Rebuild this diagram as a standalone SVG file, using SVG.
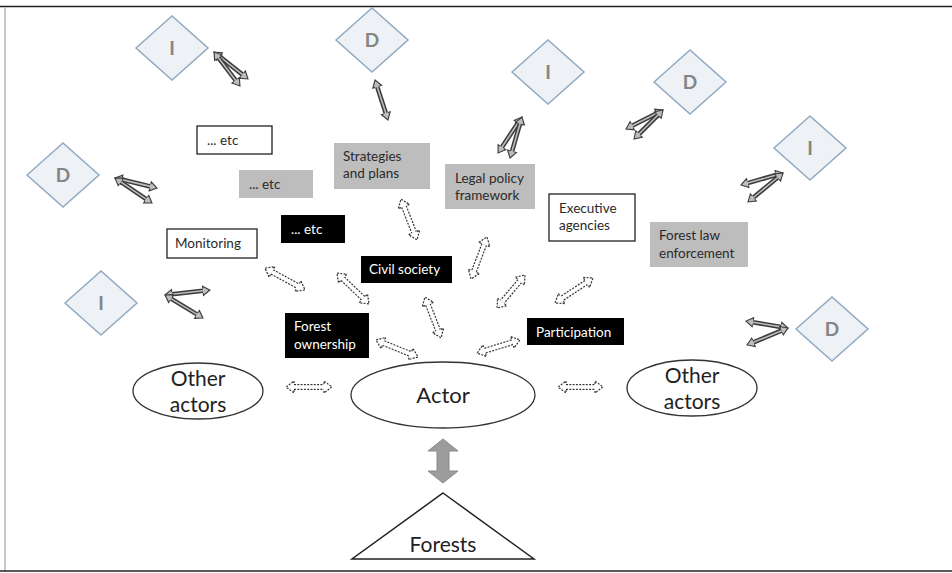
<svg xmlns="http://www.w3.org/2000/svg" width="952" height="573" viewBox="0 0 952 573">
  <style>
    .frame-dark { stroke: #222; stroke-width: 1.6; }
    .frame-light { stroke: #b0b0b0; stroke-width: 1.4; }
    .dia { fill: #eef1f6; stroke: #91a9c2; stroke-width: 1.5; }
    .dia-t { font-family: Lato, "Liberation Sans", sans-serif; font-size: 19px; font-weight: bold; fill: #858585; text-anchor: middle; }
    .bx-w { fill: #fff; stroke: #222; stroke-width: 1.3; }
    .bx-g { fill: #bdbdbd; stroke: none; }
    .bx-k { fill: #000; stroke: none; }
    .t { font-family: Lato, "Liberation Sans", sans-serif; font-size: 13.5px; }
    .t-d { fill: #2a2a2a; }
    .t-w { fill: #fff; }
    .ell { fill: #fff; stroke: #333; stroke-width: 1.3; }
    .big { font-family: Lato, "Liberation Sans", sans-serif; fill: #222; text-anchor: middle; }
    .da-o { stroke: #333; stroke-width: 6; stroke-dasharray: 2 1.3; fill: none; }
    .da-i { stroke: #fff; stroke-width: 3.6; fill: none; marker-start: url(#dashHead); marker-end: url(#dashHead); }
    .dk-o { stroke: #3a3a3a; stroke-width: 4.6; fill: none; }
    .dk-i { stroke: #bdbdbd; stroke-width: 1.6; fill: none; marker-start: url(#darkHead); marker-end: url(#darkHead); }
  </style>
  <defs>
    <!-- hollow block-arrow head with dotted outline; reference point is the head base -->
    <marker id="dashHead" markerUnits="userSpaceOnUse" orient="auto-start-reverse" refX="0" refY="0" markerWidth="20" markerHeight="20" overflow="visible">
      <path d="M0,-3 L0,-6 L8,0 L0,6 L0,3" fill="#fff" stroke="#333" stroke-width="1.2" stroke-dasharray="2 1.3"/>
    </marker>
    <!-- narrow dark head used by the links to the I/D diamonds -->
    <marker id="darkHead" markerUnits="userSpaceOnUse" orient="auto-start-reverse" refX="0" refY="0" markerWidth="20" markerHeight="20" overflow="visible">
      <path d="M0,-2.3 L0,-4.6 L7,0 L0,4.6 L0,2.3" fill="#bdbdbd" stroke="#3a3a3a" stroke-width="1.1"/>
    </marker>
  </defs>

  <rect width="952" height="573" fill="#fff"/>

  <!-- frame -->
  <g id="frame">
    <line class="frame-dark" x1="0" y1="6.5" x2="952" y2="6.5"/>
    <line class="frame-light" x1="5" y1="7" x2="5" y2="571"/>
    <line class="frame-dark" x1="0" y1="571" x2="952" y2="571"/>
  </g>

  <!-- connectors -->
  <g id="connectors">
    <!-- dotted double arrows around the actor -->
    <line class="da-o" x1="272.0" y1="271.9" x2="298.0" y2="286.1"/><line class="da-i" x1="272.0" y1="271.9" x2="298.0" y2="286.1"/>
    <line class="da-o" x1="342.7" y1="278.6" x2="363.3" y2="298.4"/><line class="da-i" x1="342.7" y1="278.6" x2="363.3" y2="298.4"/>
    <line class="da-o" x1="403.9" y1="206.5" x2="414.1" y2="232.5"/><line class="da-i" x1="403.9" y1="206.5" x2="414.1" y2="232.5"/>
    <line class="da-o" x1="427.9" y1="304.5" x2="438.1" y2="330.5"/><line class="da-i" x1="427.9" y1="304.5" x2="438.1" y2="330.5"/>
    <line class="da-o" x1="484.2" y1="244.5" x2="473.9" y2="271.5"/><line class="da-i" x1="484.2" y1="244.5" x2="473.9" y2="271.5"/>
    <line class="da-o" x1="519.8" y1="281.1" x2="502.2" y2="301.9"/><line class="da-i" x1="519.8" y1="281.1" x2="502.2" y2="301.9"/>
    <line class="da-o" x1="586.3" y1="282.4" x2="561.7" y2="298.6"/><line class="da-i" x1="586.3" y1="282.4" x2="561.7" y2="298.6"/>
    <line class="da-o" x1="383.4" y1="343.0" x2="410.6" y2="354.0"/><line class="da-i" x1="383.4" y1="343.0" x2="410.6" y2="354.0"/>
    <line class="da-o" x1="512.3" y1="342.3" x2="484.7" y2="350.7"/><line class="da-i" x1="512.3" y1="342.3" x2="484.7" y2="350.7"/>
    <line class="da-o" x1="294" y1="387" x2="324" y2="387"/><line class="da-i" x1="294" y1="387" x2="324" y2="387"/>
    <line class="da-o" x1="566" y1="387" x2="595" y2="387"/><line class="da-i" x1="566" y1="387" x2="595" y2="387"/>

    <!-- dark double arrows to the diamonds -->
    <line class="dk-o" x1="219.5" y1="56.4" x2="242.5" y2="74.6"/><line class="dk-i" x1="219.5" y1="56.4" x2="242.5" y2="74.6"/>
    <line class="dk-o" x1="218.3" y1="57.6" x2="235.7" y2="80.4"/><line class="dk-i" x1="218.3" y1="57.6" x2="235.7" y2="80.4"/>
    <line class="dk-o" x1="121.8" y1="179.6" x2="150.2" y2="186.4"/><line class="dk-i" x1="121.8" y1="179.6" x2="150.2" y2="186.4"/>
    <line class="dk-o" x1="120.8" y1="181.9" x2="146.2" y2="199.1"/><line class="dk-i" x1="120.8" y1="181.9" x2="146.2" y2="199.1"/>
    <line class="dk-o" x1="172.0" y1="294.2" x2="203.0" y2="290.8"/><line class="dk-i" x1="172.0" y1="294.2" x2="203.0" y2="290.8"/>
    <line class="dk-o" x1="171.0" y1="298.6" x2="197.0" y2="314.4"/><line class="dk-i" x1="171.0" y1="298.6" x2="197.0" y2="314.4"/>
    <line class="dk-o" x1="377.2" y1="86.7" x2="385.8" y2="113.3"/><line class="dk-i" x1="377.2" y1="86.7" x2="385.8" y2="113.3"/>
    <line class="dk-o" x1="518.1" y1="122.8" x2="501.9" y2="147.2"/><line class="dk-i" x1="518.1" y1="122.8" x2="501.9" y2="147.2"/>
    <line class="dk-o" x1="520.0" y1="123.7" x2="512.0" y2="151.3"/><line class="dk-i" x1="520.0" y1="123.7" x2="512.0" y2="151.3"/>
    <line class="dk-o" x1="656.8" y1="113.2" x2="632.2" y2="125.8"/><line class="dk-i" x1="656.8" y1="113.2" x2="632.2" y2="125.8"/>
    <line class="dk-o" x1="658.0" y1="115.0" x2="639.0" y2="134.0"/><line class="dk-i" x1="658.0" y1="115.0" x2="639.0" y2="134.0"/>
    <line class="dk-o" x1="776.3" y1="174.9" x2="747.7" y2="183.1"/><line class="dk-i" x1="776.3" y1="174.9" x2="747.7" y2="183.1"/>
    <line class="dk-o" x1="777.6" y1="177.5" x2="753.4" y2="197.5"/><line class="dk-i" x1="777.6" y1="177.5" x2="753.4" y2="197.5"/>
    <line class="dk-o" x1="781.1" y1="326.9" x2="752.9" y2="322.2"/><line class="dk-i" x1="781.1" y1="326.9" x2="752.9" y2="322.2"/>
    <line class="dk-o" x1="781.5" y1="330.7" x2="753.5" y2="342.3"/><line class="dk-i" x1="781.5" y1="330.7" x2="753.5" y2="342.3"/>

    <!-- thick grey link between actor and forests -->
    <polygon points="443,439 458,451 449,451 449,471 458,471 443,483 428,471 437,471 437,451 428,451" fill="#9c9c9c" stroke="#8a8a8a" stroke-width="1"/>
  </g>

  <!-- I / D diamonds -->
  <g id="i-top-left"><polygon class="dia" points="136,48 172,16 208,48 172,80"/><text class="dia-t" x="172" y="55">I</text></g>
  <g id="d-left"><polygon class="dia" points="27,175 63,143 99,175 63,207"/><text class="dia-t" x="63" y="182">D</text></g>
  <g id="i-left"><polygon class="dia" points="65,303 101,271 137,303 101,335"/><text class="dia-t" x="101" y="310">I</text></g>
  <g id="d-top"><polygon class="dia" points="336,40 372,8 408,40 372,72"/><text class="dia-t" x="372" y="47">D</text></g>
  <g id="i-top"><polygon class="dia" points="512,72 548,40 584,72 548,104"/><text class="dia-t" x="548" y="79">I</text></g>
  <g id="d-top-right"><polygon class="dia" points="654,82 690,50 726,82 690,114"/><text class="dia-t" x="690" y="89">D</text></g>
  <g id="i-right"><polygon class="dia" points="774,148 810,116 846,148 810,180"/><text class="dia-t" x="810" y="155">I</text></g>
  <g id="d-right"><polygon class="dia" points="796,329 832,297 868,329 832,361"/><text class="dia-t" x="832" y="336">D</text></g>

  <!-- institution boxes -->
  <g id="etc-white"><rect class="bx-w" x="197" y="126" width="75" height="28"/><text class="t t-d" x="207" y="145">... etc</text></g>
  <g id="etc-grey"><rect class="bx-g" x="239" y="170" width="74" height="28"/><text class="t t-d" x="249" y="189">... etc</text></g>
  <g id="etc-black"><rect class="bx-k" x="281" y="215" width="64" height="28"/><text class="t t-w" x="291" y="234">... etc</text></g>
  <g id="monitoring"><rect class="bx-w" x="167" y="229" width="90" height="29"/><text class="t t-d" x="175" y="248">Monitoring</text></g>
  <g id="strategies"><rect class="bx-g" x="334" y="143" width="96" height="46"/><text class="t t-d" x="343" y="161">Strategies</text><text class="t t-d" x="343" y="178">and plans</text></g>
  <g id="legal-policy"><rect class="bx-g" x="445" y="164" width="90" height="45"/><text class="t t-d" x="455" y="183">Legal policy</text><text class="t t-d" x="455" y="200">framework</text></g>
  <g id="executive"><rect class="bx-w" x="549" y="194" width="86" height="47"/><text class="t t-d" x="559" y="213">Executive</text><text class="t t-d" x="559" y="230">agencies</text></g>
  <g id="law-enforcement"><rect class="bx-g" x="650" y="222" width="98" height="45"/><text class="t t-d" x="659" y="240">Forest law</text><text class="t t-d" x="659" y="258">enforcement</text></g>
  <g id="civil-society"><rect class="bx-k" x="361" y="256" width="91" height="27"/><text class="t t-w" x="369" y="274">Civil society</text></g>
  <g id="forest-ownership"><rect class="bx-k" x="285" y="313" width="84" height="45"/><text class="t t-w" x="294" y="331">Forest</text><text class="t t-w" x="294" y="349">ownership</text></g>
  <g id="participation"><rect class="bx-k" x="527" y="318" width="97" height="27"/><text class="t t-w" x="536" y="337">Participation</text></g>

  <!-- actors -->
  <g id="actor"><ellipse class="ell" cx="443" cy="395" rx="92" ry="33"/><text class="big" x="443" y="403" font-size="22">Actor</text></g>
  <g id="other-actors-left"><ellipse class="ell" cx="198" cy="391" rx="65" ry="28"/><text class="big" x="198" y="386" font-size="21">Other</text><text class="big" x="198" y="412" font-size="21">actors</text></g>
  <g id="other-actors-right"><ellipse class="ell" cx="692" cy="388" rx="65" ry="28"/><text class="big" x="692" y="383" font-size="21">Other</text><text class="big" x="692" y="409" font-size="21">actors</text></g>

  <!-- forests -->
  <g id="forests"><polygon points="443,493 534,559 352,559" fill="#fff" stroke="#222" stroke-width="1.5"/><text class="big" x="443" y="552" font-size="21">Forests</text></g>
</svg>
